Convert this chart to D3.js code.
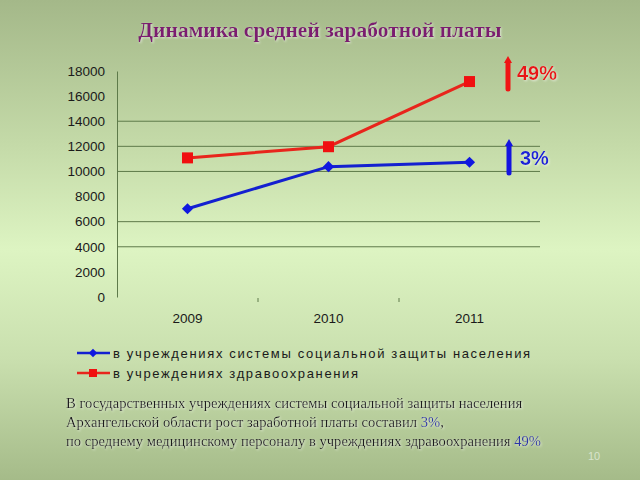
<!DOCTYPE html>
<html><head><meta charset="utf-8">
<script src="https://cdn.jsdelivr.net/npm/d3@7"></script>
<style>html,body{margin:0;padding:0;overflow:hidden;}svg{display:block;}</style>
</head><body>
<svg id="c" width="640" height="480"></svg>
<script>
const years = ["2009", "2010", "2011"];
const socialValues = [7030, 10380, 10730];
const healthValues = [11080, 11970, 17160];
const seriesNames = ["в учреждениях системы социальной защиты населения", "в учреждениях здравоохранения"];
const yTicks = [0, 2000, 4000, 6000, 8000, 10000, 12000, 14000, 16000, 18000];
const gridValues = [4000, 6000, 10000, 12000, 14000];
const growthLabels = ["49%", "3%"];
const titleText = "Динамика средней заработной платы";
const noteLines = [
  [["В государственных учреждениях системы социальной защиты населения", 0]],
  [["Архангельской области рост заработной платы составил ", 0], ["3%", 1], [",", 0]],
  [["по среднему медицинскому персоналу в учреждениях здравоохранения ", 0], ["49%", 1]]
];

(function(){
const svg = d3.select("#c");
const defs = svg.append("defs");
const bg = defs.append("linearGradient").attr("id","bg").attr("x1",0).attr("y1",0).attr("x2",0).attr("y2",1);
[[0,"#a4b889"],[0.3,"#c4daa8"],[0.52,"#ddf4c2"],[0.75,"#c9dfae"],[1,"#a5bb89"]].forEach(s=>bg.append("stop").attr("offset",s[0]).attr("stop-color",s[1]));
svg.append("rect").attr("width",640).attr("height",480).attr("fill","url(#bg)");

const flt = defs.append("filter").attr("id","sh").attr("x","-20%").attr("y","-20%").attr("width","140%").attr("height","140%");
flt.append("feDropShadow").attr("dx",1).attr("dy",1).attr("stdDeviation",0.8).attr("flood-color","#ffffff").attr("flood-opacity",0.6);

// title
svg.append("text").attr("x",320).attr("y",37).attr("text-anchor","middle")
  .attr("font-family","Liberation Serif, Times New Roman, serif").attr("font-weight","bold")
  .attr("font-size",21.5).attr("fill","#7b1d6f").attr("filter","url(#sh)").text(titleText);

const pLeft = 117, pRight = 540, pTop = 71, pBottom = 297;
const x = d3.scaleBand().domain(years).range([pLeft, pRight]);
const y = d3.scaleLinear().domain([0, 18000]).range([pBottom, pTop]);

// gridlines
svg.append("g").selectAll("line").data(gridValues).join("line")
  .attr("x1", pLeft).attr("x2", pRight).attr("y1", d=>y(d)).attr("y2", d=>y(d))
  .attr("stroke","#5e7a4a").attr("stroke-width",1);

// y axis
const yAxis = svg.append("g").attr("transform",`translate(${pLeft},0)`)
  .call(d3.axisLeft(y).tickValues(yTicks).tickSize(0).tickPadding(12).tickFormat(d3.format("d")));
yAxis.select(".domain").attr("stroke","#5e7a4a");
yAxis.selectAll("text").attr("font-family","Liberation Sans, Arial, sans-serif").attr("font-size",13.5).attr("fill","#1a1a1a");

// x axis
const xAxis = svg.append("g").attr("transform",`translate(0,${pBottom})`)
  .call(d3.axisBottom(x).tickSize(0).tickPadding(16));
xAxis.select(".domain").remove();
xAxis.selectAll("text").attr("font-family","Liberation Sans, Arial, sans-serif").attr("font-size",13.5).attr("fill","#1a1a1a");
svg.append("g").selectAll("line").data(years.slice(1)).join("line")
  .attr("x1", d=>x(d)).attr("x2", d=>x(d)).attr("y1", pBottom+1).attr("y2", pBottom+5)
  .attr("stroke","#5e7a4a");

const cx = d => x(d) + x.bandwidth()/2;
const line = d3.line().x((d,i)=>cx(years[i])).y(d=>y(d));

// red series
svg.append("path").datum(healthValues).attr("d", line).attr("fill","none").attr("stroke","#e8251c").attr("stroke-width",3);
svg.append("g").selectAll("rect").data(healthValues).join("rect")
  .attr("x",(d,i)=>cx(years[i])-5.5).attr("y",d=>y(d)-5.5).attr("width",11).attr("height",11).attr("fill","#f01010");

// blue series
svg.append("path").datum(socialValues).attr("d", line).attr("fill","none").attr("stroke","#1420d0").attr("stroke-width",3);
const diamond = d3.symbol().type(d3.symbolSquare).size(62);
svg.append("g").selectAll("path").data(socialValues).join("path")
  .attr("d", diamond).attr("transform",(d,i)=>`translate(${cx(years[i])},${y(d)}) rotate(45)`).attr("fill","#1018e0");

// arrows
function arrow(xp, y1, y2, color){
  svg.append("line").attr("x1",xp).attr("x2",xp).attr("y1",y1).attr("y2",y2+6)
    .attr("stroke",color).attr("stroke-width",5).attr("stroke-linecap","round");
  svg.append("path").attr("d",`M${xp-4},${y2+7}L${xp},${y2}L${xp+4},${y2+7}Z`).attr("fill",color);
}
arrow(508, 89, 56, "#f01414");
arrow(509, 173, 139, "#1414e0");
svg.append("text").attr("x",517).attr("y",80).attr("font-family","Liberation Sans, Arial, sans-serif")
  .attr("font-weight","bold").attr("font-size",20).attr("fill","#e81818").attr("filter","url(#sh)").text(growthLabels[0]);
svg.append("text").attr("x",520).attr("y",165).attr("font-family","Liberation Sans, Arial, sans-serif")
  .attr("font-weight","bold").attr("font-size",20).attr("fill","#1a22d8").attr("filter","url(#sh)").text(growthLabels[1]);

// legend
const legY = [353, 373];
const legColors = ["#1420d0", "#e8251c"];
legY.forEach((ly,i)=>{
  svg.append("line").attr("x1",77).attr("x2",110).attr("y1",ly).attr("y2",ly).attr("stroke",legColors[i]).attr("stroke-width",2.5);
  if(i===0){
    svg.append("path").attr("d", d3.symbol().type(d3.symbolSquare).size(36)).attr("transform",`translate(93,${ly}) rotate(45)`).attr("fill","#1018e0");
  } else {
    svg.append("rect").attr("x",89).attr("y",ly-4).attr("width",8).attr("height",8).attr("fill","#f01010");
  }
  svg.append("text").attr("x",113).attr("y",ly+4.5).attr("font-family","Liberation Sans, Arial, sans-serif")
    .attr("font-size",13).attr("letter-spacing",1.65).attr("fill","#1a1a1a").text(seriesNames[i]);
});

// note
const noteY = [408, 427, 446];
noteLines.forEach((parts,i)=>{
  const t = svg.append("text").attr("x",66).attr("y",noteY[i])
    .attr("font-family","Liberation Serif, Times New Roman, serif").attr("font-size",14.6).attr("filter","url(#sh)");
  parts.forEach(p=>t.append("tspan").attr("fill", p[1] ? "#2a35a8" : "#1e1e1e").text(p[0]));
});

// page number
svg.append("text").attr("x",594).attr("y",460).attr("text-anchor","middle")
  .attr("font-family","Liberation Sans, Arial, sans-serif").attr("font-size",11).attr("fill","#d8e4cc").text("10");
})();
</script>
</body></html>
